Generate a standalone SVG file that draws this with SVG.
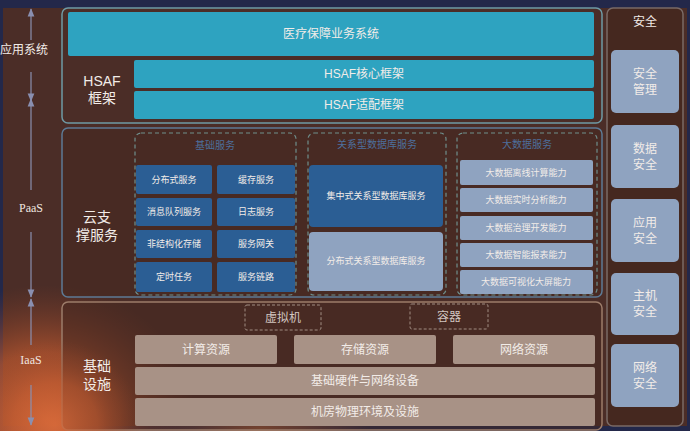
<svg xmlns="http://www.w3.org/2000/svg" width="690" height="431" viewBox="0 0 690 431">
<defs>
<radialGradient id="glow" cx="0.5" cy="0.5" r="0.5">
<stop offset="0" stop-color="#d86a3a" stop-opacity="0.95"/>
<stop offset="0.5" stop-color="#c05a30" stop-opacity="0.7"/>
<stop offset="1" stop-color="#8a4028" stop-opacity="0"/>
</radialGradient>
<radialGradient id="glow2" cx="0.5" cy="0.5" r="0.5">
<stop offset="0" stop-color="#d0703a" stop-opacity="0.75"/>
<stop offset="1" stop-color="#d0703a" stop-opacity="0"/>
</radialGradient>
<marker id="arr" viewBox="0 0 10 10" refX="9" refY="5" markerWidth="7" markerHeight="7" orient="auto-start-reverse">
<path d="M0,1 L10,5 L0,9 Z" fill="#8a8fb0"/>
</marker>
<style>
.panel{fill:#45281f;stroke-width:1.5}
.teal{fill:#2ea3c0}
.blue{fill:#2b5e94}
.slate{fill:#8fa3c0}
.tan{fill:#a89286}
.dash{fill:none;stroke:#6f8f8c;stroke-width:1.2;stroke-dasharray:4 3}
.vdash{fill:none;stroke:#a08c82;stroke-width:1;stroke-dasharray:3 2}
.t{font-family:"Liberation Sans","Noto Sans CJK SC",sans-serif;fill:#f2ece8;text-anchor:middle;dominant-baseline:central}
.s{font-size:9px}
.m{font-size:12px}
.l{font-size:14px}
.dim{fill:#d2c6c0}
.gt{font-family:"Liberation Sans","Noto Sans CJK SC",sans-serif;fill:#4d6f9c;text-anchor:middle;dominant-baseline:central;font-size:10px}
.ax{font-family:"Liberation Serif","Noto Sans CJK SC",serif;fill:#f0e6e0;text-anchor:middle;dominant-baseline:central;font-size:12px}
.axl{stroke:#8a8fb0;stroke-width:1.2;fill:none}
</style>
</defs>
<rect x="0" y="0" width="690" height="431" fill="#23284a"/>
<rect x="3" y="8" width="684" height="418" fill="#4b2d27"/>
<ellipse cx="45" cy="420" rx="150" ry="135" fill="url(#glow)"/>
<ellipse cx="260" cy="428" rx="110" ry="14" fill="url(#glow2)"/>

<g id="app-layer">
<rect x="62" y="8" width="540" height="115" rx="6" class="panel" stroke="#6f9aa5" fill-opacity="0"/>
<g id="medical-system"><rect x="68" y="12" width="526" height="44" rx="2" class="teal"/><text x="331" y="34" class="t m">医疗保障业务系统</text></g>
<text x="102" y="81" class="t l">HSAF</text>
<text x="102" y="98" class="t l">框架</text>
<g id="hsaf-core"><rect x="134" y="60" width="460" height="28" rx="2" class="teal"/><text x="364" y="74" class="t m">HSAF核心框架</text></g>
<g id="hsaf-adapt"><rect x="134" y="91" width="460" height="28" rx="2" class="teal"/><text x="364" y="105" class="t m">HSAF适配框架</text></g>
</g>

<g id="paas-layer">
<rect x="62" y="128" width="540" height="169" rx="6" class="panel" stroke="#5d7a95" fill-opacity="0.5"/>
<text x="97" y="217" class="t l">云支</text>
<text x="97" y="235" class="t l">撑服务</text>
<g id="basic-services">
<rect x="135" y="133" width="161" height="162" rx="6" class="dash"/>
<text x="215" y="145" class="gt">基础服务</text>
<g id="svc-1"><rect x="136" y="165" width="76" height="29" rx="2" class="blue"/><text x="174" y="180" class="t s">分布式服务</text></g>
<g id="svc-2"><rect x="217" y="165" width="78" height="29" rx="2" class="blue"/><text x="256" y="180" class="t s">缓存服务</text></g>
<g id="svc-3"><rect x="136" y="198" width="76" height="28" rx="2" class="blue"/><text x="174" y="212" class="t s">消息队列服务</text></g>
<g id="svc-4"><rect x="217" y="198" width="78" height="28" rx="2" class="blue"/><text x="256" y="212" class="t s">日志服务</text></g>
<g id="svc-5"><rect x="136" y="230" width="76" height="28" rx="2" class="blue"/><text x="174" y="244" class="t s">非结构化存储</text></g>
<g id="svc-6"><rect x="217" y="230" width="78" height="28" rx="2" class="blue"/><text x="256" y="244" class="t s">服务网关</text></g>
<g id="svc-7"><rect x="136" y="262" width="76" height="30" rx="2" class="blue"/><text x="174" y="277" class="t s">定时任务</text></g>
<g id="svc-8"><rect x="217" y="262" width="78" height="30" rx="2" class="blue"/><text x="256" y="277" class="t s">服务链路</text></g>
</g>
<g id="rdb-services">
<rect x="308" y="133" width="138" height="162" rx="6" class="dash"/>
<text x="377" y="144" class="gt">关系型数据库服务</text>
<g id="rdb-1"><rect x="309" y="165" width="134" height="62" rx="4" class="blue"/><text x="376" y="196" class="t s">集中式关系型数据库服务</text></g>
<g id="rdb-2"><rect x="309" y="232" width="134" height="59" rx="4" class="slate"/><text x="376" y="261" class="t s">分布式关系型数据库服务</text></g>
</g>
<g id="bigdata-services">
<rect x="457" y="133" width="140" height="162" rx="6" class="dash"/>
<text x="527" y="144" class="gt">大数据服务</text>
<g id="bd-1"><rect x="460" y="160" width="133" height="25" rx="2" class="slate"/><text x="526" y="172.5" class="t s">大数据离线计算能力</text></g>
<g id="bd-2"><rect x="460" y="188" width="133" height="24" rx="2" class="slate"/><text x="526" y="200" class="t s">大数据实时分析能力</text></g>
<g id="bd-3"><rect x="460" y="216" width="133" height="24" rx="2" class="slate"/><text x="526" y="228" class="t s">大数据治理开发能力</text></g>
<g id="bd-4"><rect x="460" y="243" width="133" height="24" rx="2" class="slate"/><text x="526" y="255" class="t s">大数据智能报表能力</text></g>
<g id="bd-5"><rect x="460" y="270" width="133" height="24" rx="2" class="slate"/><text x="526" y="282" class="t s">大数据可视化大屏能力</text></g>
</g>
</g>

<g id="iaas-layer">
<rect x="62" y="302" width="540" height="128" rx="6" class="panel" stroke="#9c7c6a" fill-opacity="0.5"/>
<ellipse cx="55" cy="425" rx="85" ry="85" fill="url(#glow)" opacity="0.8"/>
<text x="97" y="366" class="t l">基础</text>
<text x="97" y="384" class="t l">设施</text>
<g id="vm"><rect x="245" y="305" width="76" height="25" rx="2" class="vdash"/><text x="283" y="317.5" class="t m dim">虚拟机</text></g>
<g id="container"><rect x="410" y="304" width="78" height="25" rx="2" class="vdash"/><text x="449" y="316.5" class="t m dim">容器</text></g>
<g id="compute"><rect x="135" y="335" width="142" height="29" rx="2" class="tan"/><text x="206" y="349.5" class="t m">计算资源</text></g>
<g id="storage"><rect x="294" y="335" width="142" height="29" rx="2" class="tan"/><text x="365" y="349.5" class="t m">存储资源</text></g>
<g id="network"><rect x="453" y="335" width="142" height="29" rx="2" class="tan"/><text x="524" y="349.5" class="t m">网络资源</text></g>
<g id="hardware"><rect x="135" y="367" width="460" height="28" rx="2" class="tan"/><text x="365" y="381" class="t m">基础硬件与网络设备</text></g>
<g id="facility"><rect x="135" y="398" width="460" height="28" rx="2" class="tan"/><text x="365" y="412" class="t m">机房物理环境及设施</text></g>
</g>

<g id="security">
<rect x="607" y="8" width="76" height="418" rx="6" fill="#45281f" stroke="#7a6a66" stroke-width="1.5"/>
<text x="645" y="22" class="t m">安全</text>
<g id="sec-mgmt"><rect x="611" y="50" width="68" height="63" rx="5" class="slate"/><text x="645" y="74" class="t m">安全</text><text x="645" y="90" class="t m">管理</text></g>
<g id="sec-data"><rect x="611" y="125" width="68" height="63" rx="5" class="slate"/><text x="645" y="149" class="t m">数据</text><text x="645" y="165" class="t m">安全</text></g>
<g id="sec-app"><rect x="611" y="199" width="68" height="63" rx="5" class="slate"/><text x="645" y="223" class="t m">应用</text><text x="645" y="239" class="t m">安全</text></g>
<g id="sec-host"><rect x="611" y="273" width="68" height="62" rx="5" class="slate"/><text x="645" y="296" class="t m">主机</text><text x="645" y="312" class="t m">安全</text></g>
<g id="sec-net"><rect x="611" y="344" width="68" height="63" rx="5" class="slate"/><text x="645" y="368" class="t m">网络</text><text x="645" y="384" class="t m">安全</text></g>
</g>

<g id="axis-labels">
<text x="24" y="50" class="t m">应用系统</text>
<text x="31" y="208" class="ax">PaaS</text>
<text x="31" y="360" class="ax">IaaS</text>
</g>

<g id="connectors">
<line x1="31" y1="40" x2="31" y2="9" class="axl" marker-end="url(#arr)"/>
<line x1="31" y1="72" x2="31" y2="101" class="axl" marker-end="url(#arr)"/>
<line x1="31" y1="190" x2="31" y2="99" class="axl" marker-end="url(#arr)"/>
<line x1="31" y1="232" x2="31" y2="297" class="axl" marker-end="url(#arr)"/>
<line x1="31" y1="345" x2="31" y2="299" class="axl" marker-end="url(#arr)"/>
<line x1="31" y1="385" x2="31" y2="425" class="axl" marker-end="url(#arr)"/>
</g>
</svg>
